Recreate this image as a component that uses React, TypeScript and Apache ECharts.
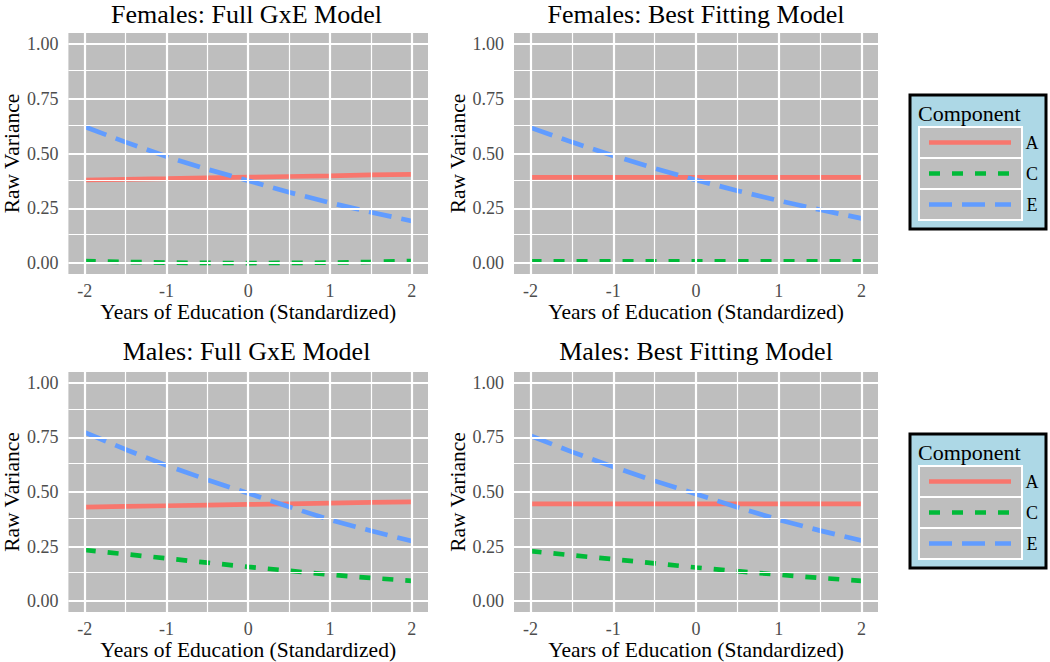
import React, { useEffect, useRef } from "react";
import * as echarts from "echarts";

const X = [-2, -1.5, -1, -0.5, 0, 0.5, 1, 1.5, 2];

const F_FULL_A = [0.379, 0.382, 0.385, 0.389, 0.392, 0.395, 0.398, 0.402, 0.405];
const F_FULL_C = [0.009, 0.005, 0.002, 0.0005, 0, 0.0005, 0.002, 0.005, 0.009];
const F_FULL_E = [0.622, 0.552, 0.486, 0.428, 0.376, 0.323, 0.275, 0.232, 0.192];

const F_BEST_A = [0.391, 0.391, 0.391, 0.391, 0.391, 0.391, 0.391, 0.391, 0.391];
const F_BEST_C = [0.008, 0.008, 0.008, 0.008, 0.008, 0.008, 0.008, 0.008, 0.008];
const F_BEST_E = [0.618, 0.552, 0.49, 0.432, 0.379, 0.33, 0.285, 0.243, 0.204];

const M_FULL_A = [0.431, 0.434, 0.437, 0.44, 0.443, 0.446, 0.449, 0.452, 0.455];
const M_FULL_C = [0.234, 0.215, 0.196, 0.176, 0.157, 0.139, 0.121, 0.106, 0.093];
const M_FULL_E = [0.773, 0.695, 0.622, 0.556, 0.494, 0.432, 0.373, 0.322, 0.275];

const M_BEST_A = [0.446, 0.446, 0.446, 0.446, 0.446, 0.446, 0.446, 0.446, 0.446];
const M_BEST_C = [0.229, 0.21, 0.192, 0.173, 0.154, 0.137, 0.121, 0.106, 0.093];
const M_BEST_E = [0.758, 0.684, 0.615, 0.551, 0.491, 0.43, 0.373, 0.323, 0.278];

const TITLES = [
  "Females: Full GxE Model",
  "Females: Best Fitting Model",
  "Males: Full GxE Model",
  "Males: Best Fitting Model",
];
const COMPONENTS = ["A", "C", "E"];
const X_TICKS = [-2, -1, 0, 1, 2];
const X_MINOR = [-1.5, -0.5, 0.5, 1.5];
const Y_TICKS = [0, 0.25, 0.5, 0.75, 1];
const Y_MINOR = [0.125, 0.375, 0.625, 0.875];
const X_TITLE = "Years of Education (Standardized)";
const Y_TITLE = "Raw Variance";
const LEGEND_TITLE = "Component";

const PANEL_DATA = [
  [F_FULL_A, F_FULL_C, F_FULL_E],
  [F_BEST_A, F_BEST_C, F_BEST_E],
  [M_FULL_A, M_FULL_C, M_FULL_E],
  [M_BEST_A, M_BEST_C, M_BEST_E],
];

const COLORS = ["#F8766D", "#00BA38", "#619CFF"];
const DASHES: any[] = ["solid", [11, 12], [23, 10]];
const FONT = "'Liberation Serif', 'Times New Roman', serif";
const BG = "#BEBEBE";

const GRIDS = [
  { left: 65, top: 33, width: 363, height: 241 },
  { left: 514, top: 33, width: 364, height: 241 },
  { left: 65, top: 372, width: 363, height: 240 },
  { left: 514, top: 372, width: 364, height: 240 },
];

function legendGraphic(top: number) {
  const els: any[] = [];
  els.push({
    type: "rect",
    shape: { x: 910, y: top, width: 136, height: 134 },
    style: { fill: "#ADD8E6", stroke: "#000", lineWidth: 3 },
  });
  els.push({
    type: "text",
    x: 918,
    y: top + 18,
    style: {
      text: LEGEND_TITLE,
      font: `22px ${FONT}`,
      fill: "#000",
      verticalAlign: "middle",
      align: "left",
    },
  });
  COMPONENTS.forEach((c, i) => {
    const ry = top + 32 + i * 31;
    els.push({
      type: "rect",
      shape: { x: 919, y: ry, width: 103, height: 31 },
      style: { fill: BG, stroke: "#fff", lineWidth: 2 },
    });
    els.push({
      type: "line",
      shape: { x1: 929, y1: ry + 15.5, x2: 1011, y2: ry + 15.5 },
      style: {
        stroke: COLORS[i],
        lineWidth: 4.5,
        lineDash: DASHES[i] === "solid" ? null : DASHES[i],
      },
    });
    els.push({
      type: "text",
      x: 1032,
      y: ry + 15.5,
      style: {
        text: c,
        font: `18px ${FONT}`,
        fill: "#000",
        verticalAlign: "middle",
        align: "center",
      },
    });
  });
  return els;
}

export default function App() {
  const ref = useRef<HTMLDivElement>(null);
  useEffect(() => {
    if (!ref.current) return;
    const chart = echarts.init(ref.current, null, { renderer: "svg" });

    const grid = GRIDS.map((g) => ({
      ...g,
      show: true,
      backgroundColor: BG,
      borderWidth: 0,
      containLabel: false,
    }));

    const xAxis = GRIDS.map((_, i) => ({
      type: "value",
      gridIndex: i,
      min: -2.2,
      max: 2.2,
      name: X_TITLE,
      nameLocation: "middle",
      nameGap: 27,
      nameTextStyle: { fontFamily: FONT, fontSize: 21.5, color: "#000" },
      axisLine: { show: false },
      axisTick: {
        show: true,
        customValues: X_TICKS,
        length: 5,
        lineStyle: { color: "#333", width: 1.5 },
      },
      axisLabel: {
        customValues: X_TICKS,
        margin: 8,
        fontFamily: FONT,
        fontSize: 18,
        color: "#4D4D4D",
        formatter: (v: number) => String(v),
      },
      splitLine: { show: false },
    }));

    const yAxis = GRIDS.map((_, i) => ({
      type: "value",
      gridIndex: i,
      min: -0.05,
      max: 1.05,
      name: Y_TITLE,
      nameLocation: "middle",
      nameGap: 43,
      nameTextStyle: { fontFamily: FONT, fontSize: 21.5, color: "#000" },
      axisLine: { show: false },
      axisTick: {
        show: true,
        customValues: Y_TICKS,
        length: 5,
        lineStyle: { color: "#333", width: 1.5 },
      },
      axisLabel: {
        customValues: Y_TICKS,
        margin: 10,
        fontFamily: FONT,
        fontSize: 18,
        color: "#4D4D4D",
        formatter: (v: number) => v.toFixed(2),
      },
      splitLine: { show: false },
    }));

    const series: any[] = [];
    GRIDS.forEach((_, gi) => {
      const mlData: any[] = [];
      X_MINOR.forEach((v) => mlData.push({ xAxis: v, lineStyle: { width: 1.2 } }));
      Y_MINOR.forEach((v) => mlData.push({ yAxis: v, lineStyle: { width: 1.2 } }));
      X_TICKS.forEach((v) => mlData.push({ xAxis: v, lineStyle: { width: 2.2 } }));
      Y_TICKS.forEach((v) => mlData.push({ yAxis: v, lineStyle: { width: 2.2 } }));
      series.push({
        type: "line",
        name: "grid" + gi,
        xAxisIndex: gi,
        yAxisIndex: gi,
        data: [],
        z: 1,
        silent: true,
        markLine: {
          silent: true,
          symbol: ["none", "none"],
          label: { show: false },
          lineStyle: { color: "#FFFFFF", type: "solid", width: 2 },
          emphasis: { disabled: true },
          data: mlData,
        },
      });
      PANEL_DATA[gi].forEach((vals, si) => {
        series.push({
          type: "line",
          name: COMPONENTS[si],
          xAxisIndex: gi,
          yAxisIndex: gi,
          data: X.map((x, k) => [x, vals[k]]),
          showSymbol: false,
          symbol: "none",
          z: 3,
          lineStyle: { color: COLORS[si], width: 4.7, type: DASHES[si], cap: "butt" },
        });
      });
    });

    const titleCenters = [
      { left: 246.5, top: 1 },
      { left: 696, top: 1 },
      { left: 246.5, top: 338 },
      { left: 696, top: 338 },
    ];
    const title = TITLES.map((t, i) => ({
      text: t,
      left: titleCenters[i].left,
      top: titleCenters[i].top,
      padding: 0,
      textAlign: "center",
      textStyle: { fontFamily: FONT, fontSize: 26, fontWeight: "normal", color: "#000" },
    }));

    chart.setOption({
      animation: false,
      backgroundColor: "#FFFFFF",
      title,
      grid,
      xAxis,
      yAxis,
      series,
      graphic: [...legendGraphic(95), ...legendGraphic(434)],
    });
    return () => chart.dispose();
  }, []);
  return (
    <div
      ref={ref}
      style={{ position: "absolute", left: 0, top: 0, width: 1050, height: 662 }}
    />
  );
}
